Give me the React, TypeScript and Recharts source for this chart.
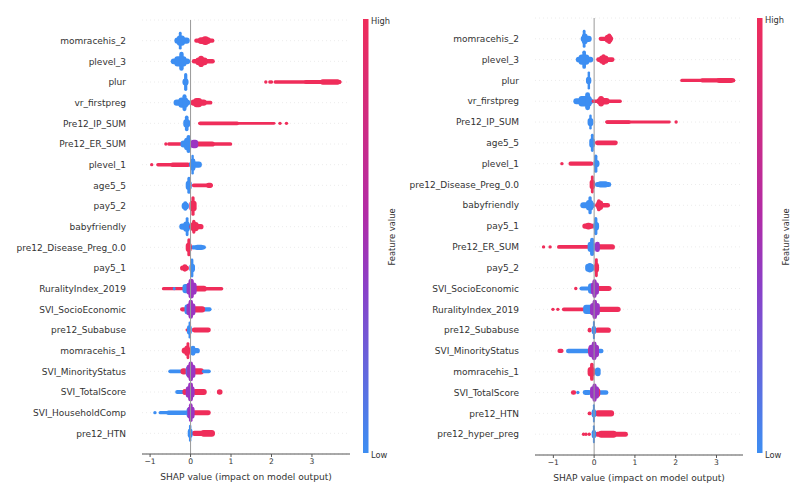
import { ScatterChart, Scatter, XAxis, YAxis, ReferenceArea, ReferenceLine, CartesianGrid } from 'recharts'

const RED = '#ef2d5a'
const BLUE = '#3d8ef2'
const PURPLE = '#9b35c2'
const COLOR: Record<string, string> = { H: RED, L: BLUE, M: PURPLE }

const xTicks = [-1, 0, 1, 2, 3]

const leftFeatures = [
  'momracehis_2', 'plevel_3', 'plur', 'vr_firstpreg', 'Pre12_IP_SUM', 'Pre12_ER_SUM', 'plevel_1', 'age5_5',
  'pay5_2', 'babyfriendly', 'pre12_Disease_Preg_0.0', 'pay5_1', 'RuralityIndex_2019', 'SVI_SocioEconomic',
  'pre12_Subabuse', 'momracehis_1', 'SVI_MinorityStatus', 'SVI_TotalScore', 'SVI_HouseholdComp', 'pre12_HTN',
]

const rightFeatures = [
  'momracehis_2', 'plevel_3', 'plur', 'vr_firstpreg', 'Pre12_IP_SUM', 'age5_5', 'plevel_1', 'pre12_Disease_Preg_0.0',
  'babyfriendly', 'pay5_1', 'Pre12_ER_SUM', 'pay5_2', 'SVI_SocioEconomic', 'RuralityIndex_2019', 'pre12_Subabuse',
  'SVI_MinorityStatus', 'momracehis_1', 'SVI_TotalScore', 'pre12_HTN', 'pre12_hyper_preg',
]

// dense runs of SHAP values: [row, from, to, pile height (share of row), feature value H/L/M]
type Band = [number, number, number, number, string]
const leftBands: Band[] = [
  [0, -0.40, -0.02, 0.30, 'L'], [0, -0.34, -0.14, 0.5, 'L'], [0, -0.29, -0.22, 0.86, 'L'],
  [0, 0.09, 0.59, 0.2, 'H'], [0, 0.18, 0.50, 0.32, 'H'], [0, 0.28, 0.45, 0.42, 'H'],
  [1, -0.49, -0.01, 0.28, 'L'], [1, -0.40, -0.10, 0.5, 'L'], [1, -0.28, -0.17, 0.92, 'L'],
  [1, 0.03, 0.60, 0.22, 'H'], [1, 0.12, 0.42, 0.38, 'H'], [1, 0.19, 0.33, 0.55, 'H'],
  [2, -0.20, -0.05, 0.35, 'L'], [2, -0.16, -0.08, 0.87, 'L'],
  [2, 2.05, 3.73, 0.16, 'H'], [2, 2.8, 3.73, 0.2, 'H'], [2, 3.2, 3.70, 0.26, 'H'],
  [3, -0.42, -0.01, 0.3, 'L'], [3, -0.30, -0.06, 0.5, 'L'], [3, -0.20, -0.10, 0.82, 'L'],
  [3, 0.0, 0.54, 0.18, 'H'], [3, 0.0, 0.40, 0.3, 'H'], [3, 0.07, 0.28, 0.45, 'H'],
  [4, -0.18, -0.01, 0.4, 'L'], [4, -0.14, -0.05, 0.77, 'L'],
  [4, 0.19, 2.10, 0.14, 'H'], [4, 0.19, 1.2, 0.18, 'H'],
  [5, -0.58, -0.1, 0.16, 'H'], [5, 0.02, 1.03, 0.18, 'H'], [5, 0.05, 0.6, 0.25, 'H'],
  [5, -0.25, 0.02, 0.35, 'L'], [5, -0.16, 0.02, 0.6, 'L'], [5, -0.1, 0.0, 0.87, 'L'], [5, 0.0, 0.19, 0.4, 'M'],
  [6, -0.85, -0.01, 0.17, 'H'], [6, -0.5, -0.01, 0.22, 'H'],
  [6, -0.04, 0.28, 0.3, 'L'], [6, 0.0, 0.12, 0.6, 'L'], [6, 0.02, 0.08, 0.95, 'L'],
  [7, -0.12, 0.03, 0.45, 'L'], [7, -0.08, 0.0, 0.82, 'L'],
  [7, 0.03, 0.55, 0.18, 'H'], [7, 0.38, 0.55, 0.26, 'H'],
  [8, -0.22, -0.04, 0.35, 'L'], [8, -0.18, -0.08, 0.45, 'L'],
  [8, -0.03, 0.15, 0.5, 'H'], [8, 0.02, 0.1, 0.95, 'H'],
  [9, -0.28, 0.01, 0.3, 'L'], [9, -0.18, -0.02, 0.5, 'L'], [9, -0.12, -0.05, 0.92, 'L'],
  [9, -0.03, 0.32, 0.25, 'H'], [9, 0.0, 0.2, 0.45, 'H'], [9, 0.04, 0.12, 0.68, 'H'],
  [10, 0.0, 0.38, 0.2, 'L'], [10, 0.1, 0.33, 0.26, 'L'],
  [10, -0.12, 0.03, 0.45, 'H'], [10, -0.08, 0.0, 0.87, 'H'],
  [11, -0.26, -0.04, 0.25, 'H'], [11, -0.2, -0.08, 0.36, 'H'],
  [11, -0.03, 0.11, 0.4, 'L'], [11, 0.0, 0.07, 0.92, 'L'],
  [12, -0.71, -0.1, 0.16, 'H'], [12, -0.44, -0.37, 0.16, 'L'], [12, 0.05, 0.81, 0.17, 'H'], [12, 0.05, 0.4, 0.28, 'H'],
  [12, -0.2, 0.05, 0.45, 'L'], [12, -0.1, 0.15, 0.6, 'M'], [12, -0.05, 0.08, 0.95, 'M'],
  [13, -0.26, -0.1, 0.2, 'H'], [13, 0.2, 0.52, 0.2, 'L'], [13, 0.05, 0.36, 0.3, 'H'],
  [13, -0.15, 0.05, 0.5, 'L'], [13, -0.1, 0.12, 0.6, 'M'], [13, -0.05, 0.06, 0.92, 'M'],
  [14, -0.12, -0.08, 0.15, 'H'], [14, 0.03, 0.5, 0.24, 'H'],
  [14, -0.09, 0.03, 0.45, 'L'], [14, -0.05, 0.01, 0.82, 'L'],
  [15, 0.0, 0.23, 0.25, 'L'], [15, 0.0, 0.12, 0.48, 'L'],
  [15, -0.22, 0.01, 0.3, 'H'], [15, -0.15, -0.02, 0.5, 'H'], [15, -0.1, -0.03, 0.82, 'H'],
  [16, -0.55, -0.1, 0.18, 'L'], [16, -0.25, -0.08, 0.3, 'H'], [16, 0.05, 0.33, 0.3, 'H'], [16, 0.28, 0.5, 0.18, 'L'],
  [16, -0.12, 0.08, 0.5, 'L'], [16, -0.1, 0.12, 0.65, 'M'], [16, -0.05, 0.06, 0.95, 'M'],
  [17, -0.38, -0.1, 0.2, 'L'], [17, -0.2, -0.08, 0.3, 'H'], [17, 0.05, 0.4, 0.28, 'H'], [17, 0.65, 0.79, 0.26, 'H'],
  [17, -0.12, 0.1, 0.55, 'M'], [17, -0.06, 0.06, 0.92, 'M'],
  [18, -0.79, -0.05, 0.16, 'L'], [18, -0.6, -0.05, 0.22, 'L'], [18, 0.03, 0.5, 0.24, 'H'],
  [18, -0.1, 0.05, 0.5, 'L'], [18, -0.08, 0.1, 0.6, 'M'], [18, -0.04, 0.05, 0.9, 'M'],
  [19, 0.03, 0.6, 0.26, 'H'], [19, 0.25, 0.6, 0.32, 'H'],
  [19, -0.07, 0.05, 0.45, 'L'], [19, -0.04, 0.02, 0.82, 'L'],
]

const rightBands: Band[] = [
  [0, -0.33, -0.06, 0.3, 'L'], [0, -0.30, -0.16, 0.5, 'L'], [0, -0.28, -0.21, 0.87, 'L'],
  [0, 0.11, 0.47, 0.2, 'H'], [0, 0.26, 0.45, 0.38, 'H'], [0, 0.32, 0.42, 0.5, 'H'],
  [1, -0.45, -0.02, 0.28, 'L'], [1, -0.38, -0.12, 0.5, 'L'], [1, -0.29, -0.20, 0.88, 'L'],
  [1, 0.05, 0.50, 0.22, 'H'], [1, 0.12, 0.35, 0.4, 'H'], [1, 0.18, 0.28, 0.52, 'H'],
  [2, -0.20, -0.07, 0.35, 'L'], [2, -0.16, -0.10, 0.87, 'L'],
  [2, 2.11, 3.46, 0.15, 'H'], [2, 2.6, 3.46, 0.2, 'H'], [2, 3.0, 3.42, 0.24, 'H'],
  [3, -0.51, -0.02, 0.28, 'L'], [3, -0.38, -0.06, 0.5, 'L'], [3, -0.22, -0.10, 0.87, 'L'],
  [3, -0.06, 0.68, 0.16, 'H'], [3, 0.06, 0.38, 0.32, 'H'], [3, 0.10, 0.24, 0.5, 'H'],
  [4, -0.16, -0.02, 0.4, 'L'], [4, -0.12, -0.06, 0.72, 'L'],
  [4, 0.27, 1.88, 0.14, 'H'], [4, 0.28, 0.9, 0.18, 'H'],
  [5, -0.12, 0.02, 0.45, 'L'], [5, -0.08, -0.01, 0.87, 'L'], [5, 0.02, 0.58, 0.22, 'H'],
  [6, -0.63, -0.02, 0.2, 'H'], [6, -0.02, 0.13, 0.35, 'L'], [6, 0.0, 0.08, 0.88, 'L'],
  [7, 0.02, 0.42, 0.24, 'L'], [7, 0.08, 0.35, 0.3, 'L'],
  [7, -0.11, 0.02, 0.45, 'H'], [7, -0.08, -0.01, 0.87, 'H'],
  [8, -0.34, 0.02, 0.28, 'L'], [8, -0.20, -0.02, 0.5, 'L'], [8, -0.14, -0.06, 0.87, 'L'],
  [8, 0.02, 0.39, 0.22, 'H'], [8, 0.05, 0.22, 0.45, 'H'], [8, 0.07, 0.16, 0.58, 'H'],
  [9, -0.29, 0.0, 0.25, 'H'], [9, -0.22, -0.06, 0.32, 'H'],
  [9, -0.02, 0.12, 0.4, 'L'], [9, 0.0, 0.08, 0.87, 'L'],
  [10, -0.91, -0.1, 0.18, 'H'], [10, 0.02, 0.51, 0.26, 'H'],
  [10, -0.16, 0.02, 0.5, 'L'], [10, -0.10, 0.0, 0.87, 'L'], [10, 0.02, 0.14, 0.5, 'M'],
  [11, -0.22, 0.0, 0.38, 'L'], [11, -0.17, -0.04, 0.45, 'L'],
  [11, 0.0, 0.12, 0.45, 'H'], [11, 0.02, 0.09, 0.92, 'H'],
  [12, -0.36, -0.06, 0.2, 'L'], [12, 0.07, 0.43, 0.24, 'H'],
  [12, -0.15, 0.05, 0.5, 'L'], [12, -0.08, 0.12, 0.6, 'M'], [12, -0.04, 0.06, 0.9, 'M'],
  [13, -0.79, -0.15, 0.18, 'H'], [13, 0.02, 0.65, 0.26, 'H'],
  [13, -0.27, 0.02, 0.45, 'L'], [13, -0.10, 0.14, 0.6, 'M'], [13, -0.04, 0.07, 0.92, 'M'],
  [14, -0.16, -0.06, 0.22, 'H'], [14, 0.02, 0.41, 0.26, 'H'],
  [14, -0.06, 0.05, 0.4, 'L'], [14, -0.03, 0.02, 0.87, 'L'],
  [15, -0.9, -0.75, 0.2, 'H'], [15, -0.69, -0.1, 0.22, 'L'], [15, 0.08, 0.23, 0.22, 'L'],
  [15, -0.15, 0.05, 0.4, 'H'], [15, -0.14, 0.12, 0.6, 'M'], [15, -0.06, 0.06, 0.9, 'M'],
  [16, 0.02, 0.16, 0.42, 'L'], [16, -0.16, 0.02, 0.45, 'H'], [16, -0.10, -0.01, 0.87, 'H'],
  [17, -0.57, -0.44, 0.22, 'H'], [17, -0.28, -0.06, 0.24, 'L'], [17, 0.08, 0.35, 0.22, 'L'],
  [17, 0.0, 0.15, 0.45, 'H'], [17, -0.10, 0.12, 0.6, 'M'], [17, -0.04, 0.06, 0.88, 'M'],
  [18, -0.16, -0.06, 0.18, 'H'], [18, 0.02, 0.49, 0.3, 'H'],
  [18, -0.06, 0.05, 0.4, 'L'], [18, -0.03, 0.02, 0.87, 'L'],
  [19, 0.02, 0.83, 0.24, 'H'], [19, 0.1, 0.55, 0.34, 'H'],
  [19, -0.06, 0.05, 0.4, 'L'], [19, -0.03, 0.02, 0.87, 'L'],
]

// isolated points: [row, SHAP value, feature value]
type Dot = [number, number, string]
const leftDots: Dot[] = [
  [2, 1.86, 'H'], [2, 1.96, 'H'], [2, 2.0, 'H'], [4, 2.21, 'H'], [4, 2.37, 'H'],
  [5, -0.61, 'H'], [6, -0.96, 'H'], [18, -0.88, 'L'],
]
const rightDots: Dot[] = [
  [4, 2.01, 'H'], [6, -0.79, 'H'], [10, -1.24, 'H'], [10, -1.08, 'H'], [12, -0.45, 'H'],
  [13, -1.01, 'H'], [13, -0.89, 'H'], [17, -0.4, 'L'], [19, -0.26, 'H'], [19, -0.2, 'H'], [19, -0.12, 'H'],
]

const rows = leftFeatures.map((_, i) => i)
const fmt = (v: number) => (v < 0 ? '\u2212' + Math.abs(v) : String(v))

const Panel = ({ features, bands, dots, domain, top, bottom }: any) => {
  const dotData = dots.map(([row, x, c]: Dot) => ({ x, y: row, c }))
  return (
    <ScatterChart width={400} height={486} margin={{ top, right: 50, bottom, left: 0 }}>
      <CartesianGrid vertical={false} stroke="#ececec" strokeDasharray="1 3" />
      <XAxis
        type="number"
        dataKey="x"
        domain={domain}
        ticks={xTicks}
        allowDataOverflow
        height={28}
        tickFormatter={fmt}
        tickSize={3}
        tickMargin={2}
        stroke="#555"
        tick={{ fill: '#333', fontSize: 7.6 }}
        label={{ value: 'SHAP value (impact on model output)', position: 'insideBottom', offset: 2, fill: '#333', fontSize: 9.1 }}
      />
      <YAxis
        type="number"
        dataKey="y"
        reversed
        domain={[-1, 20]}
        ticks={rows}
        interval={0}
        allowDataOverflow
        width={142}
        axisLine={false}
        tickLine={false}
        tickSize={6}
        tickMargin={10}
        tickFormatter={(i: number) => features[i]}
        tick={{ fill: '#333', fontSize: 9 }}
      />
      <ReferenceLine x={0} stroke="#9a9a9a" strokeWidth={1} />
      {bands.map(([row, from, to, pile, c]: Band, i: number) => (
        <ReferenceArea
          key={i}
          x1={from}
          x2={to}
          y1={row - pile / 2}
          y2={row + pile / 2}
          fill={COLOR[c]}
          fillOpacity={1}
          stroke="none"
          shape={(p: any) => (
            <rect
              x={p.x}
              y={p.y}
              width={p.width}
              height={p.height}
              rx={Math.min(p.height / 2, p.width / 2, 3)}
              fill={COLOR[c]}
            />
          )}
        />
      ))}
      <Scatter
        data={dotData}
        isAnimationActive={false}
        shape={(p: any) => <circle cx={p.cx} cy={p.cy} r={1.7} fill={COLOR[p.payload.c]} />}
      />
    </ScatterChart>
  )
}

const ColorBar = ({ left, barX, top, bottom, titleX, id }: any) => (
  <svg width={60} height={486} style={{ position: 'absolute', left, top: 0 }}>
    <defs>
      <linearGradient id={id} x1="0" y1="0" x2="0" y2="1">
        <stop offset="0%" stopColor={RED} />
        <stop offset="45%" stopColor="#b22ba6" />
        <stop offset="62%" stopColor="#8a40c8" />
        <stop offset="100%" stopColor={BLUE} />
      </linearGradient>
    </defs>
    <rect x={barX} y={top} width={5.5} height={bottom - top} fill={`url(#${id})`} />
    <text x={barX + 8} y={top + 2} fontSize={8.3} fill="#333" dominantBaseline="middle">High</text>
    <text x={barX + 8} y={bottom + 2} fontSize={8.3} fill="#333" dominantBaseline="middle">Low</text>
    <text
      x={titleX}
      y={237}
      fontSize={8.4}
      fill="#333"
      textAnchor="middle"
      dominantBaseline="middle"
      transform={`rotate(-90 ${titleX} 237)`}
    >
      Feature value
    </text>
  </svg>
)

export default function App() {
  return (
    <div
      style={{
        position: 'absolute',
        left: 0,
        top: 0,
        width: 800,
        height: 486,
        background: '#fff',
        fontFamily: '"DejaVu Sans", sans-serif',
        overflow: 'hidden',
      }}
    >
      <div style={{ position: 'absolute', left: 0, top: 0 }}>
        <Panel features={leftFeatures} bands={leftBands} dots={leftDots} domain={[-1.2, 3.94]} top={20} bottom={4} />
      </div>
      <div style={{ position: 'absolute', left: 393, top: 0 }}>
        <Panel features={rightFeatures} bands={rightBands} dots={rightDots} domain={[-1.45, 3.65]} top={18} bottom={3} />
      </div>
      <ColorBar left={340} barX={23} top={19} bottom={453} titleX={52} id="cbL" />
      <ColorBar left={735} barX={22} top={18} bottom={453} titleX={51} id="cbR" />
    </div>
  )
}
